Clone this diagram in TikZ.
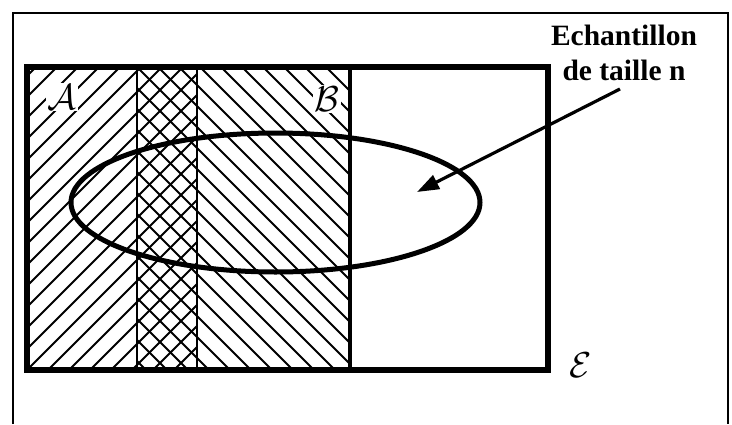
\documentclass[tikz,border=0pt]{standalone}
\usepackage{amsmath,amssymb}
\usepackage{fontspec}
\setmainfont{Liberation Serif}
\usepackage{tikz}
\usetikzlibrary{arrows.meta,shapes.geometric}
\tikzset{
  frameline/.style={line width=2.8pt, black},
  setline/.style={line width=5.5pt, black},
  divline/.style={line width=2.2pt, black},
  hatchA/.style={line width=2pt, black},
  hatchB/.style={line width=2pt, black},
  sampleell/.style={ellipse, draw, line width=5pt, minimum width=409pt, minimum height=139pt, inner sep=0pt},
  setlab/.style={fill=white, inner sep=1pt, scale=1.45, font=\fontsize{24.88}{25}\selectfont},
  pointer/.style={-{Triangle[length=22pt, width=15pt]}, line width=3.2pt},
}

\begin{document}
\begin{tikzpicture}[x=1pt, y=-1pt]
\useasboundingbox (0,0) rectangle (732,424);
% hatching of A and B
\begin{scope}
  \clip (27,67) rectangle (197,370);
  \foreach \k in {-15,...,9}
    \draw[hatchA] ({27+21*\k},370) -- ++(303,-303);
\end{scope}
\begin{scope}
  \clip (137,67) rectangle (350,370);
  \foreach \k in {-15,...,11}
    \draw[hatchB] ({137+21*\k},67) -- ++(303,303);
\end{scope}
\draw[divline] (137,67) -- (137,370);
\draw[divline] (197,67) -- (197,370);
\draw[line width=3.5pt] (350,67) -- (350,370);
% the universe E and the outer frame
\draw[frameline] (13,424) -- (13,13) -- (728,13) -- (728,424);
\draw[setline] (27,67) rectangle (548,370);
\node[sampleell] (sample) at (275.5,202.5) {};
% labels
\node[setlab] (labA) at (62,97) {$\mathcal{A}$};
\node[setlab] (labB) at (327,99) {$\mathcal{B}$};
\node[setlab, fill=none] (labE) at (581,365) {$\mathcal{E}$};
\node[font=\fontsize{29.5}{35}\selectfont\bfseries, align=center, anchor=base] (title) at (624,80) {Echantillon\\de taille n};
\coordinate (arrstart) at (620,89);
\coordinate (arrtip) at (417,192);
\draw[pointer] (arrstart) -- (arrtip);
\end{tikzpicture}
\end{document}
